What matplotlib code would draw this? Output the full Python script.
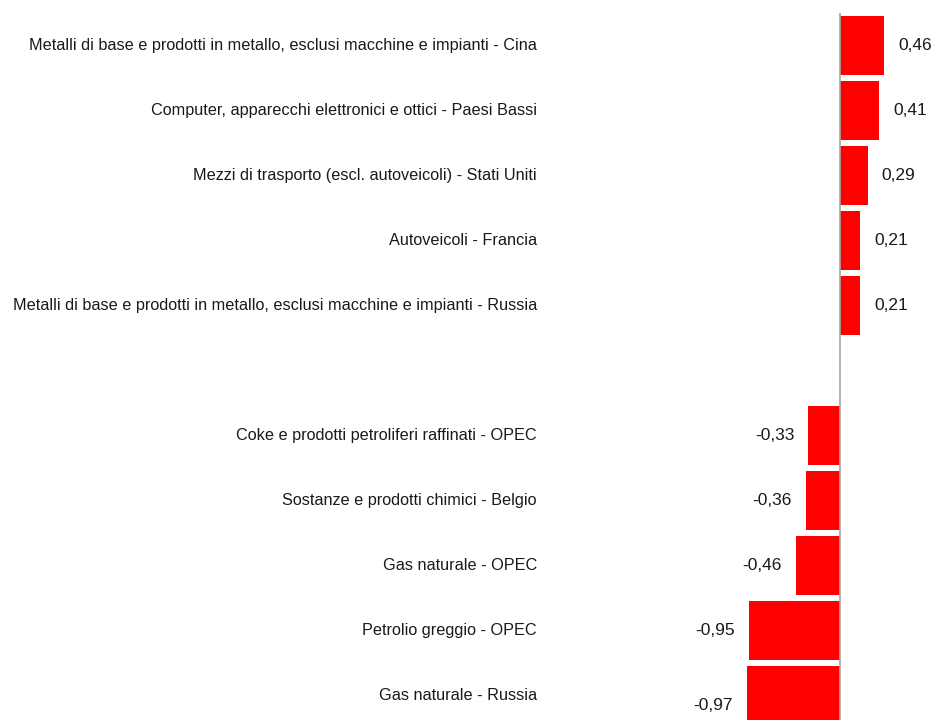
import matplotlib
matplotlib.use("Agg")
import matplotlib.pyplot as plt

plt.rcParams['font.family'] = ['Liberation Sans', 'DejaVu Sans']

# data
pos_labels = [
    "Metalli di base e prodotti in metallo, esclusi macchine e impianti - Cina",
    "Computer, apparecchi elettronici e ottici - Paesi Bassi",
    "Mezzi di trasporto (escl. autoveicoli) - Stati Uniti",
    "Autoveicoli - Francia",
    "Metalli di base e prodotti in metallo, esclusi macchine e impianti - Russia",
]
pos_values = [0.46, 0.41, 0.29, 0.21, 0.21]

neg_labels = [
    "Coke e prodotti petroliferi raffinati - OPEC",
    "Sostanze e prodotti chimici - Belgio",
    "Gas naturale - OPEC",
    "Petrolio greggio - OPEC",
    "Gas naturale - Russia",
]
neg_values = [-0.33, -0.36, -0.46, -0.95, -0.97]

labels = pos_labels + neg_labels
values = pos_values + neg_values
# empty slot between the two groups
ypos = list(range(len(pos_values))) + [len(pos_values) + 1 + i for i in range(len(neg_values))]

fig = plt.figure(figsize=(9.33, 7.2), dpi=100)
ax = fig.add_axes([0, -8 / 720, 1, 715 / 720])

ax.barh(ypos, values, height=0.92, color='#ff0000', edgecolor='none')
ax.axvline(0, color='#a6a6a6', lw=1.2)

px = 95.7  # pixels per unit
ax.set_xlim(-840 / px, 93 / px)
ax.set_ylim(10.5, -0.5)

# category labels, right-aligned at a fixed x
lab_x = -(840 - 537) / px
for y, lab in zip(ypos, labels):
    ax.text(lab_x, y, lab, ha='right', va='center', fontsize=11.7, color='#1a1a1a')

# value labels
for i, (y, v) in enumerate(zip(ypos, values)):
    txt = f"{v:.2f}".replace('.', ',')
    dy = 0.15 if i == len(values) - 1 else 0
    if v >= 0:
        ax.text(v + 14 / px, y + dy, txt, ha='left', va='center', fontsize=12.5, color='#1a1a1a')
    else:
        ax.text(v - 14 / px, y + dy, txt, ha='right', va='center', fontsize=12.5, color='#1a1a1a')

ax.axis('off')
fig.savefig('out.png', dpi=100)
